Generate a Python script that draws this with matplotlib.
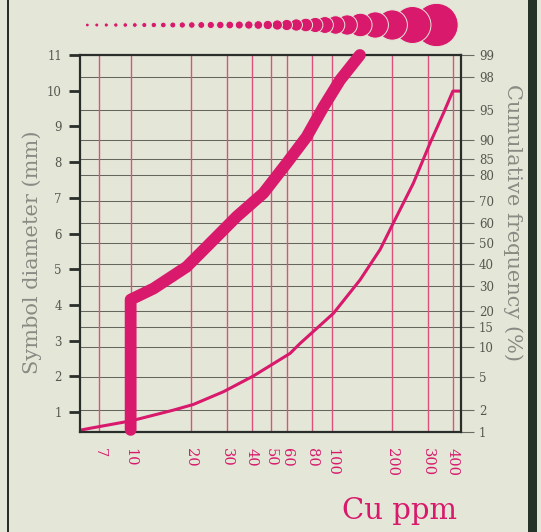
"""
Symbol diameter and cumulative frequency against Cu (ppm), log x axis,
with a probability scale on the right and a row of symbol sizes on top.
"""

from statistics import NormalDist

import numpy as np
import matplotlib
matplotlib.use('Agg')
import matplotlib.pyplot as plt
from matplotlib.patches import Circle, Rectangle
from matplotlib.ticker import NullLocator

# ---- data ----
cu_ticks = [7, 10, 20, 30, 40, 50, 60, 80, 100, 200, 300, 400]
mm_ticks = [1, 2, 3, 4, 5, 6, 7, 8, 9, 10, 11]
pct_ticks = [1, 2, 5, 10, 15, 20, 30, 40, 50, 60, 70, 80, 85, 90, 95, 98, 99]

# symbol diameter curve (mm)
cu_symbol = [10, 10, 13, 19, 25.8, 33.6, 45.7, 59.7, 75, 91, 110, 138]
mm_symbol = [0.5, 4.15, 4.46, 5.07, 5.82, 6.47, 7.13, 7.97, 8.71, 9.55, 10.3, 11.0]

# cumulative frequency curve (%)
cu_cum = [5.6, 6.3, 9.5, 10.7, 16.3, 20.5, 28.9, 40.7, 62, 69.5, 102, 138,
          174, 202, 254, 308, 359, 400, 439]
pct_cum = [1.05, 1.12, 1.38, 1.48, 1.97, 2.33, 3.34, 5.06, 8.7, 10.8, 19.4, 32.5,
           47, 59.8, 77, 89.2, 94.6, 97.0, 97.0]

# symbol row on top (diameters, px)
symbol_sizes = [3.8, 4.0, 4.2, 4.4, 4.6, 4.8, 5.1, 5.4, 5.7, 6.0, 6.3, 6.6,
                6.9, 7.2, 7.5, 7.8, 8.1, 8.4, 8.7, 9.4, 10.3, 11.3, 12.3, 13.6,
                15.2, 16.9, 18.5, 20.3, 23.5, 26.3, 30.3, 37.0, 43.3]

# ---- style ----
BG = '#e4e7d8'
PINK = '#d8196c'
GRID_RED = '#e0507f'
DARK = '#2a2e2a'
GRAY_TXT = '#8a8a84'
TICK_TXT = '#56564f'
FONT = 'DejaVu Serif'

plt.rcParams['font.family'] = FONT

_nd = NormalDist()
_ppf = np.vectorize(lambda p: _nd.inv_cdf(min(max(p / 100.0, 1e-6), 1 - 1e-6)),
                    otypes=[float])
_cdf = np.vectorize(lambda z: _nd.cdf(z) * 100.0, otypes=[float])

W, H = 541, 532
fig = plt.figure(figsize=(W / 100, H / 100), dpi=100, facecolor=BG)

left, right, top, bottom = 80, 461, 55, 431.7
ax = fig.add_axes([left / W, 1 - bottom / H, (right - left) / W, (bottom - top) / H])
ax2 = ax.twinx()
ax.set_zorder(ax2.get_zorder() + 1)
ax.patch.set_visible(False)
ax2.patch.set_visible(False)

# x axis (log)
ax.set_xscale('log')
ax.set_xlim(5.6, 439)
ax.xaxis.set_minor_locator(NullLocator())
ax.set_xticks(cu_ticks)
ax.set_xticklabels([str(v) for v in cu_ticks], rotation=270, color=PINK, fontsize=10.5)
ax.tick_params(axis='x', length=0, pad=12)

# left axis: symbol diameter
ax.set_ylim(0.45, 11)
ax.set_yticks(mm_ticks)
ax.set_yticklabels([str(v) for v in mm_ticks], fontsize=8.5, color=TICK_TXT)
ax.tick_params(axis='y', direction='out', length=8, width=2, color=DARK, pad=5)
for s in ax.spines.values():
    s.set_color(DARK)
    s.set_linewidth(1.6)

# right axis: probability scale
ax2.set_yscale('function', functions=(_ppf, _cdf))
ax2.set_ylim(1, 99)
ax2.set_yticks(pct_ticks)
ax2.yaxis.set_minor_locator(NullLocator())
ax2.set_yticklabels([str(v) for v in pct_ticks], fontsize=8.5, color=TICK_TXT)
ax2.tick_params(axis='y', direction='out', length=9, width=0.8, color='#6a6a64', pad=4)
ax2.yaxis.grid(True, color='#66665f', linewidth=0.75)
for s in ax2.spines.values():
    s.set_visible(False)

for v in cu_ticks:
    ax2.axvline(v, color=GRID_RED, linewidth=1.0, zorder=2)

# curves
ax2.plot(cu_cum, pct_cum, color=PINK, linewidth=2.2, zorder=3)
ax.plot(cu_symbol, mm_symbol, color=PINK, linewidth=8.5, solid_capstyle='round',
        solid_joinstyle='round', clip_on=False, zorder=4)

# axis titles
fig.text(32 / W, 1 - 252 / H, 'Symbol diameter (mm)', rotation=90, ha='center',
         va='center', fontsize=15, color=GRAY_TXT)
fig.text(513 / W, 1 - 222 / H, 'Cumulative frequency (%)', rotation=270, ha='center',
         va='center', fontsize=15, color=GRAY_TXT)
fig.text(457 / W, 1 - 511 / H, 'Cu ppm', ha='right', va='center', fontsize=21,
         color=PINK)

# row of symbol sizes, drawn in pixel units
row = fig.add_axes([0, 1 - 50 / H, 1, 50 / H])
row.set_xlim(0, W)
row.set_ylim(0, 50)
row.axis('off')
x = 87.3
n = len(symbol_sizes)
for i, d in enumerate(symbol_sizes):
    if i > 0:
        x += max(9.5, 0.6 * (symbol_sizes[i - 1] + d) / 2)
    row.add_patch(Circle((x, 25), d / 2, facecolor=PINK, edgecolor=BG,
                         linewidth=0.7, zorder=n - i))

# page frame
fig.patches.append(Rectangle((7 / W, 0), 1.5 / W, 1, transform=fig.transFigure,
                             facecolor=DARK, edgecolor='none'))
fig.patches.append(Rectangle((528 / W, 0), 9 / W, 1, transform=fig.transFigure,
                             facecolor='#263328', edgecolor='none'))

fig.savefig('out.png', dpi=100, facecolor=BG)
